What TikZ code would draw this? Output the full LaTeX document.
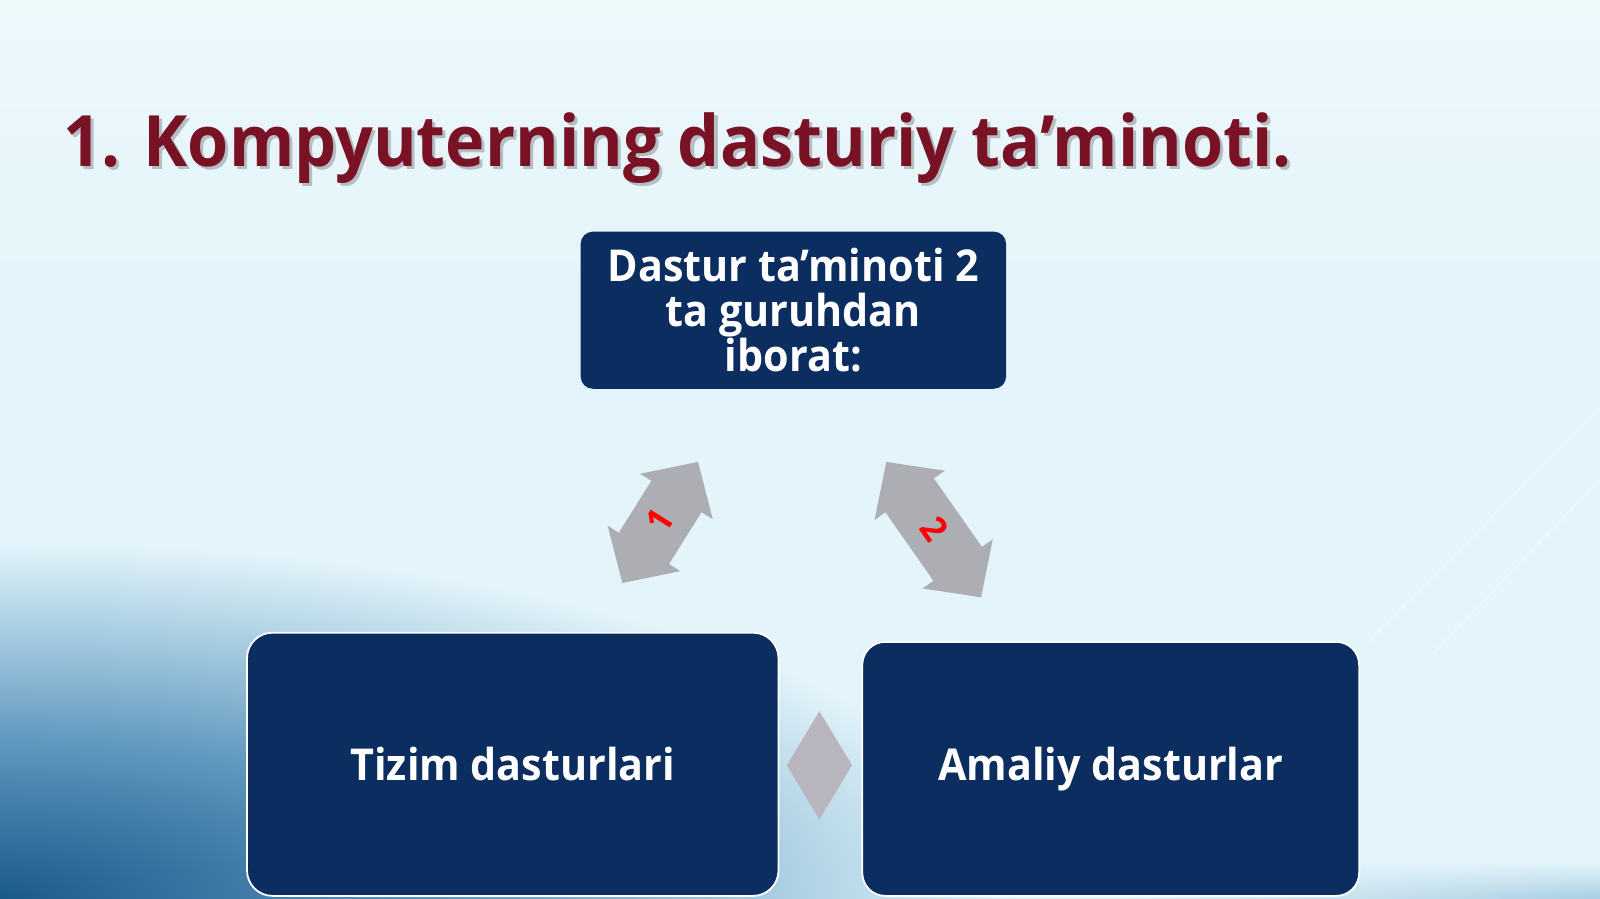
\documentclass[tikz,border=0pt]{standalone}
\usepackage{fontspec}
\setmainfont{Open Sans}[FakeStretch=0.94]
\usetikzlibrary{fadings}
\definecolor{bgc}{HTML}{E3F4FA}
\definecolor{bgtop}{HTML}{EDF8FB}
\definecolor{deepblue}{HTML}{1A5A8B}
\definecolor{midblue}{HTML}{5F97BE}
\definecolor{lightblue}{HTML}{A9CEE2}
\definecolor{navy}{HTML}{0B2D5F}
\definecolor{titlered}{HTML}{7A1226}
\definecolor{arrowc}{HTML}{ACAEB3}
\definecolor{diamc}{HTML}{B9B5BF}
\pgfdeclareradialshading{blob}{\pgfpoint{0bp}{0bp}}{color(0bp)=(deepblue); color(11bp)=(midblue); color(19bp)=(lightblue); color(25bp)=(bgc); color(50bp)=(bgc)}
\begin{document}
\begin{tikzpicture}[x=0.02cm,y=0.02cm,
  box/.style={fill=navy, text=white, align=center, inner sep=0pt},
  boxfont/.style={font=\bfseries\fontsize{24.5}{25}\selectfont},
  numlabel/.style={text=red, font=\bfseries\fontsize{20}{20}\selectfont, inner sep=0pt},
  dbl/.style={fill=arrowc}]
\useasboundingbox (0,0) rectangle (1568,-881);
% background
\fill[bgc] (0,0) rectangle (1568,-881);
\shade[top color=bgtop, bottom color=bgc] (0,0) rectangle (1568,-300);
\shade[shading=blob] (0,-881) ellipse [x radius=1000, y radius=350];
\shade[top color=bgc, bottom color=lightblue, path fading=west]
  (1100,-845) rectangle (1568,-881);
% faint diagonal lines
\draw[white, opacity=0.35, line width=1.5pt] (1568,-400) -- (1340,-630);
\draw[white, opacity=0.3, line width=1.5pt] (1568,-470) -- (1405,-640);
% title
\node[anchor=base west, text=black, opacity=0.22, inner sep=0pt,
  font=\bfseries\fontsize{39.5}{47}\selectfont] (titleshadow) at (65,-166)
  {1. Kompyuterning dasturiy ta’minoti.};
\node[anchor=base west, text=titlered, inner sep=0pt,
  font=\bfseries\fontsize{39.5}{47}\selectfont] (title) at (62,-163)
  {1. Kompyuterning dasturiy ta’minoti.};
% boxes
\node[box, boxfont, rounded corners=0.24cm, minimum width=8.34cm, minimum height=3.08cm]
  (top) at (777.5,-304) {Dastur ta’minoti 2\\ta guruhdan\\iborat:};
\node[box, boxfont, draw=white, line width=1pt, rounded corners=0.5cm,
  minimum width=10.42cm, minimum height=5.16cm]
  (sys) at (502.5,-749) {Tizim dasturlari};
\node[box, boxfont, draw=white, line width=1pt, rounded corners=0.45cm,
  minimum width=9.74cm, minimum height=4.98cm]
  (app) at (1088.5,-753.5) {Amaliy dasturlar};
% diamond
\fill[diamc] (803,-697) -- (835,-750) -- (803,-803) -- (771,-750) -- cycle;
% arrow 1
\begin{scope}[shift={(647,-512)}, rotate=58]
  \fill[dbl] (-70,0) -- (-30,42) -- (-30,29) -- (30,29) -- (30,42) -- (70,0)
    -- (30,-42) -- (30,-29) -- (-30,-29) -- (-30,-42) -- cycle;
\end{scope}
\node[numlabel, rotate=58] (n1) at (647,-510) {1};
% arrow 2
\begin{scope}[shift={(915,-519)}, rotate=-55]
  \fill[dbl] (-81,0) -- (-41,42) -- (-41,29) -- (41,29) -- (41,42) -- (81,0)
    -- (41,-42) -- (41,-29) -- (-41,-29) -- (-41,-42) -- cycle;
\end{scope}
\node[numlabel, rotate=-55] (n2) at (916,-518) {2};
\end{tikzpicture}
\end{document}
